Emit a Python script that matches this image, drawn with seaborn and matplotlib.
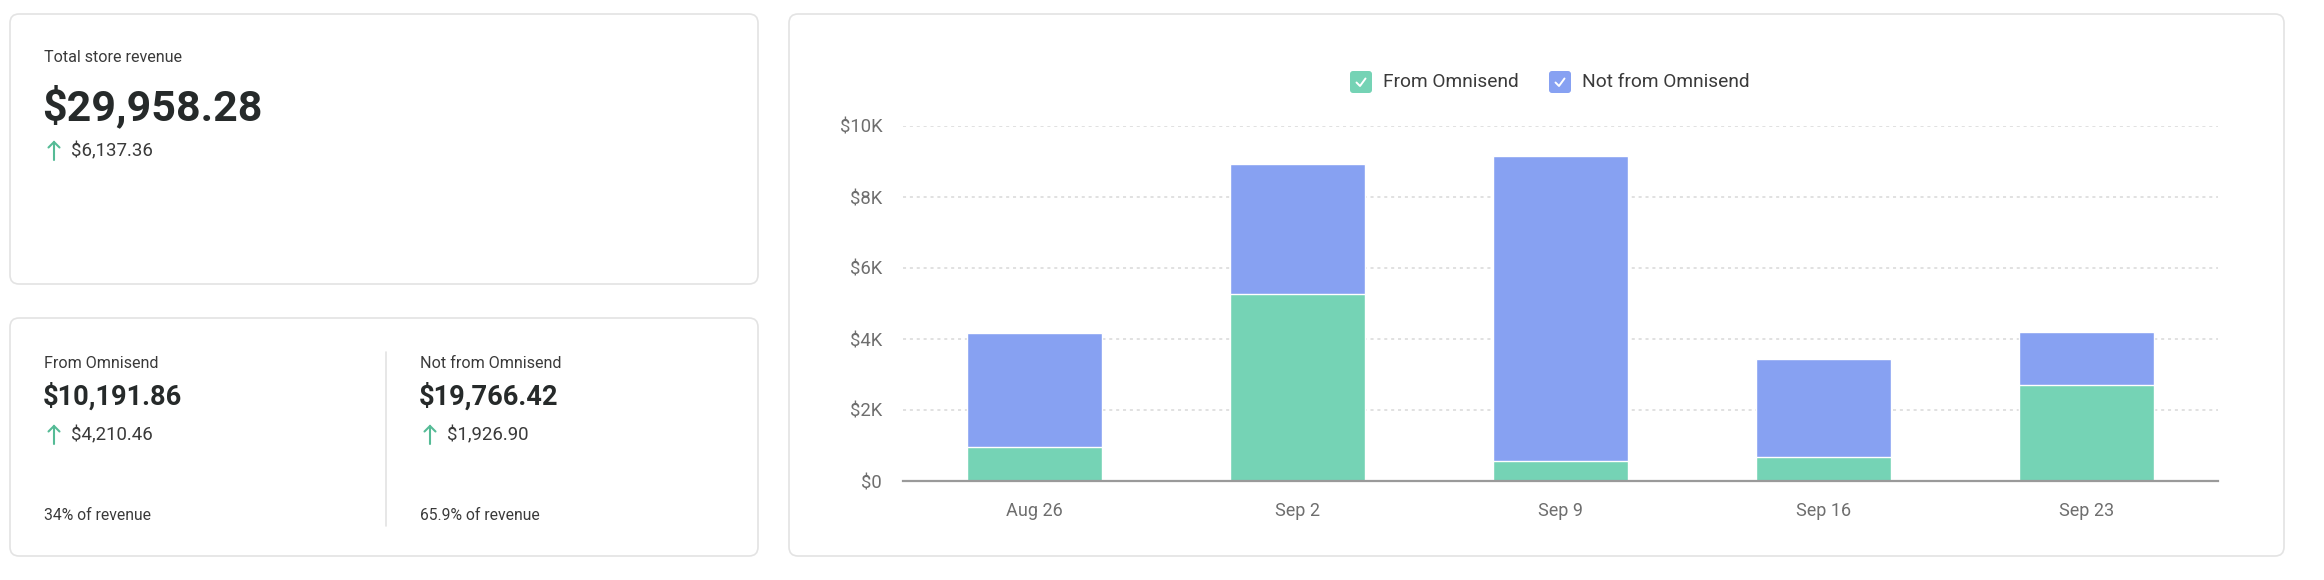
import numpy as np
import pandas as pd
import matplotlib
matplotlib.use("Agg")
import matplotlib.pyplot as plt
from matplotlib.patches import FancyBboxPatch
from matplotlib.ticker import FuncFormatter
import seaborn as sns

# chart data
weeks = ["Aug 26", "Sep 2", "Sep 9", "Sep 16", "Sep 23"]
from_omnisend = [960, 5270, 560, 690, 2700]
not_from_omnisend = [3220, 3650, 8590, 2740, 1510]
y_ticks = [0, 2000, 4000, 6000, 8000, 10000]

# summary cards
total_label = "Total store revenue"
total_value = "$29,958.28"
total_change = "$6,137.36"
split_labels = ["From Omnisend", "Not from Omnisend"]
split_values = ["$10,191.86", "$19,766.42"]
split_changes = ["$4,210.46", "$1,926.90"]
split_shares = ["34% of revenue", "65.9% of revenue"]

GREEN = "#75D3B5"
BLUE = "#87A1F2"
DARK = "#262a2a"
LABEL = "#3a3a3a"
GREY = "#6e6e6e"
ARROW = "#55bb96"

sns.set_theme(style="white")
plt.rcParams["font.family"] = ["Roboto", "DejaVu Sans"]

df = pd.DataFrame({"week": weeks, "from": from_omnisend, "not": not_from_omnisend})
df["total"] = df["from"] + df["not"]

fig = plt.figure(figsize=(23.24, 5.8), dpi=100)
fig.patch.set_facecolor("white")

# background layer in pixel coordinates
bg = fig.add_axes([0, 0, 1, 1])
bg.set_xlim(0, 2324)
bg.set_ylim(580, 0)
bg.axis("off")


def card(x0, y0, x1, y1):
    bg.add_patch(FancyBboxPatch((x0, y0), x1 - x0, y1 - y0,
                                boxstyle="round,pad=0,rounding_size=9",
                                fc="white", ec="#e3e3e3", lw=1.2))


def up_arrow(x, y):
    bg.plot([x, x], [y + 9, y - 9], color=ARROW, lw=1.5, solid_capstyle="round")
    bg.plot([x - 5.5, x, x + 5.5], [y - 3.5, y - 9, y - 3.5], color=ARROW, lw=1.5,
            solid_capstyle="round", solid_joinstyle="miter")


card(10, 14, 758, 284)
card(10, 318, 758, 556)
card(789, 14, 2284, 556)

# top card
bg.text(44, 58, total_label, fontsize=11.6, color=LABEL, va="center")
bg.text(42, 107, total_value, fontsize=31, fontweight="bold", color=DARK, va="center")
up_arrow(54, 151)
bg.text(71, 151, total_change, fontsize=13.4, color=LABEL, va="center")

# bottom card
for x, lab, val, chg, share in zip([44, 420], split_labels, split_values, split_changes, split_shares):
    bg.text(x, 363, lab, fontsize=11.6, color=LABEL, va="center")
    bg.text(x - 1, 397, val, fontsize=19.6, fontweight="bold", color=DARK, va="center")
    up_arrow(x + 10, 435)
    bg.text(x + 27, 435, chg, fontsize=13.4, color=LABEL, va="center")
    bg.text(x, 516, share, fontsize=11.3, color=LABEL, va="center")
bg.plot([386, 386], [352, 526], color="#e3e3e3", lw=1.2)

# legend
for x, lab, col in [(1350, "From Omnisend", GREEN), (1549, "Not from Omnisend", BLUE)]:
    bg.add_patch(FancyBboxPatch((x, 71), 22, 22, boxstyle="round,pad=0,rounding_size=3",
                                fc=col, ec="none"))
    bg.plot([x + 6.5, x + 10, x + 15.5], [82.5, 86, 78.5], color="white", lw=1.4,
            solid_capstyle="round")
    bg.text(x + 33, 82, lab, fontsize=13.8, color=LABEL, va="center")

# bar chart
ax = fig.add_axes([903 / 2324, 1 - 481 / 580, (2218 - 903) / 2324, (481 - 126) / 580])
ax.set_facecolor("none")
sns.barplot(data=df, x="week", y="total", color=BLUE, saturation=1, width=0.517,
            ax=ax, zorder=3)
sns.barplot(data=df, x="week", y="from", color=GREEN, saturation=1, width=0.517,
            ax=ax, zorder=4)
ax.set_xlim(-0.5, len(weeks) - 0.5)
ax.set_ylim(0, 10000)
ax.set_yticks(y_ticks)
ax.yaxis.set_major_formatter(FuncFormatter(lambda v, p: "$0" if v == 0 else f"${v / 1000:.0f}K"))
for v in y_ticks[1:]:
    ax.axhline(v, color="#d9d9d9", lw=1.1, ls=(0, (2, 2.5)), zorder=1)
ax.set_xlabel("")
ax.set_ylabel("")
for s in ["top", "right", "left"]:
    ax.spines[s].set_visible(False)
ax.spines["bottom"].set_color("#9a9a9a")
ax.spines["bottom"].set_linewidth(1.6)
ax.spines["bottom"].set_zorder(5)
ax.tick_params(axis="x", length=7, width=1.2, color="#8a8a8a", pad=8,
               labelsize=13, labelcolor=GREY)
ax.tick_params(axis="y", length=0, pad=15, labelsize=13.3, labelcolor=GREY)

fig.savefig("out.png", dpi=100, facecolor="white")
